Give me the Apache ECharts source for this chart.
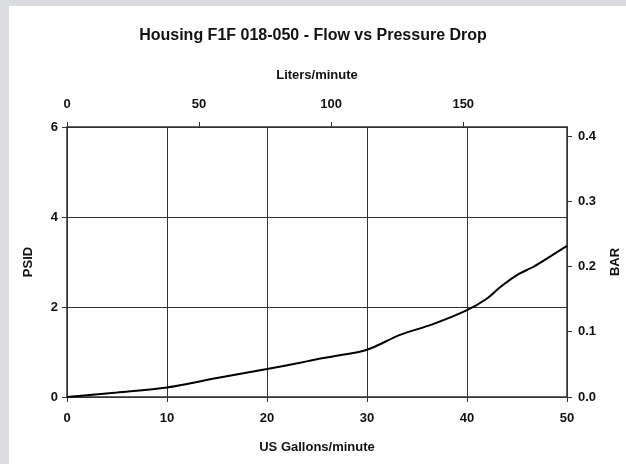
<!DOCTYPE html>
<html>
<head>
<meta charset="utf-8">
<script src="https://cdn.jsdelivr.net/npm/echarts@6/dist/echarts.min.js"></script>
<style>
  html, body { margin: 0; padding: 0; background: #fff; }
  #chart { width: 626px; height: 464px; }
</style>
</head>
<body>
<div id="chart"></div>
<script>
// flow in US gallons/minute vs pressure drop in PSID
const gpm = [0, 5, 10, 15, 20, 23.3, 25, 26.6, 30, 33.3, 36.6, 40, 42, 43.3, 45, 46.7, 48.3, 50];
const psid = [0, 0.10, 0.21, 0.42, 0.62, 0.76, 0.84, 0.90, 1.05, 1.38, 1.62, 1.93, 2.19, 2.44, 2.71, 2.9, 3.12, 3.36];
const litersTicks = [0, 50, 100, 150];
const barTicks = [0.0, 0.1, 0.2, 0.3, 0.4];

const GAL_TO_L = 3.78541;
const PSI_TO_BAR = 0.0689476;
const psiMax = 6;
const gpmMax = 50;

const font = "'Liberation Sans', Arial, sans-serif";
const ink = '#111';
const lineCol = '#333';

const chart = echarts.init(document.getElementById('chart'));

const labelStyle = { color: ink, fontFamily: font, fontWeight: 'bold', fontSize: 13 };
const nameStyle = { color: ink, fontFamily: font, fontWeight: 'bold', fontSize: 13 };
const axisLine = { show: true, onZero: false, lineStyle: { color: lineCol, width: 1.5 } };

// only print the labels that are in the tick lists (the axis max is not a round number)
const pick = (list, digits) => v => {
    const hit = list.find(t => Math.abs(t - v) < 1e-6);
    return hit === undefined ? '' : hit.toFixed(digits);
};

chart.setOption({
    animation: false,
    backgroundColor: '#fff',
    graphic: [
        { type: 'rect', shape: { x: 0, y: 0, width: 626, height: 6 }, style: { fill: '#dcdde0' }, z: -1 },
        { type: 'rect', shape: { x: 0, y: 0, width: 9, height: 464 }, style: { fill: '#dcdde0' }, z: -1 }
    ],
    title: {
        text: 'Housing F1F 018-050 - Flow vs Pressure Drop',
        left: 'center',
        top: 23,
        textStyle: { color: ink, fontFamily: font, fontWeight: 'bold', fontSize: 16 }
    },
    grid: { left: 67, right: 59, top: 127, bottom: 67, outerBoundsMode: 'none', containLabel: false },
    xAxis: [
        {
            type: 'value', position: 'bottom', min: 0, max: gpmMax, interval: 10,
            name: 'US Gallons/minute', nameLocation: 'middle', nameGap: 44, nameTextStyle: nameStyle,
            axisLine: axisLine,
            axisTick: { length: 5, lineStyle: { color: lineCol } },
            axisLabel: Object.assign({ margin: 15 }, labelStyle),
            splitLine: { show: true, lineStyle: { color: lineCol, width: 1 } }
        },
        {
            type: 'value', position: 'top', min: 0, max: gpmMax * GAL_TO_L, interval: 50,
            name: 'Liters/minute', nameLocation: 'middle', nameGap: 45, nameTextStyle: nameStyle,
            axisLine: axisLine,
            axisTick: { length: 5, lineStyle: { color: lineCol } },
            axisLabel: Object.assign({ margin: 16, showMaxLabel: false, formatter: pick(litersTicks, 0) }, labelStyle),
            splitLine: { show: false }
        }
    ],
    yAxis: [
        {
            type: 'value', position: 'left', min: 0, max: psiMax, interval: 2,
            name: 'PSID', nameLocation: 'middle', nameGap: 32, nameTextStyle: nameStyle,
            axisLine: axisLine,
            axisTick: { show: true, length: 5, lineStyle: { color: lineCol } },
            axisLabel: Object.assign({ margin: 9 }, labelStyle),
            splitLine: { show: true, lineStyle: { color: lineCol, width: 1 } }
        },
        {
            type: 'value', position: 'right', min: 0, max: psiMax * PSI_TO_BAR, interval: 0.1,
            name: 'BAR', nameLocation: 'middle', nameGap: 42, nameTextStyle: nameStyle,
            axisLine: axisLine,
            axisTick: { show: true, length: 5, lineStyle: { color: lineCol } },
            axisLabel: Object.assign({ margin: 11, showMaxLabel: false, formatter: pick(barTicks, 1) }, labelStyle),
            splitLine: { show: false }
        }
    ],
    series: [{
        type: 'line',
        xAxisIndex: 0,
        yAxisIndex: 0,
        data: gpm.map((g, i) => [g, psid[i]]),
        smooth: 0.3,
        showSymbol: false,
        lineStyle: { color: '#000', width: 2 }
    }]
});
</script>
</body>
</html>
